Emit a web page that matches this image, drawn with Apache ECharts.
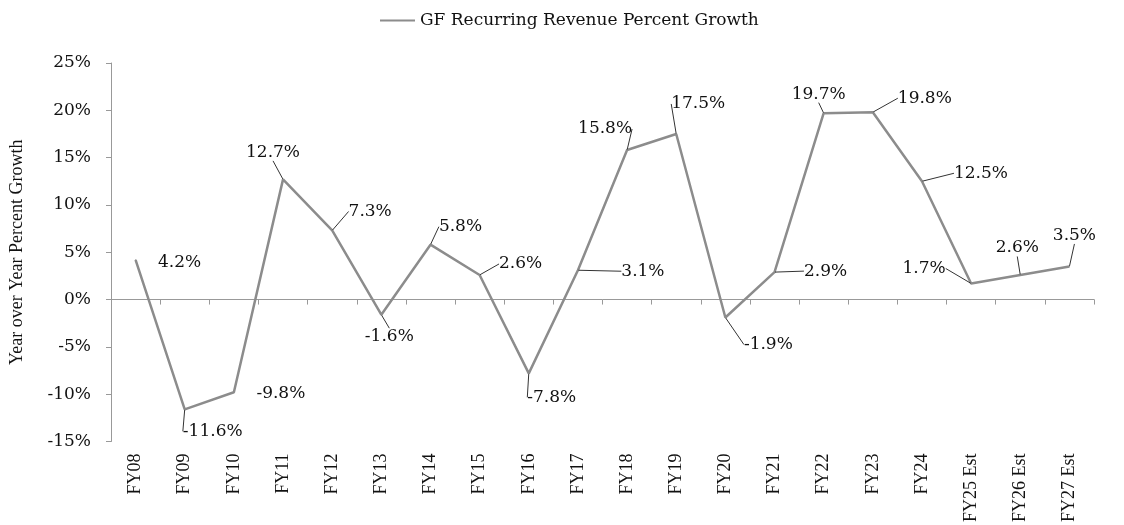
<!DOCTYPE html>
<html>
<head>
<meta charset="utf-8">
<script src="https://cdn.jsdelivr.net/npm/echarts@6/dist/echarts.min.js"></script>
<style>html,body{margin:0;padding:0;background:#fff;}#c{width:1124px;height:525px;}</style>
</head>
<body>
<div id="c"></div>
<script>
const categories = ['FY08','FY09','FY10','FY11','FY12','FY13','FY14','FY15','FY16','FY17','FY18','FY19','FY20','FY21','FY22','FY23','FY24','FY25 Est','FY26 Est','FY27 Est'];
const growth = [4.2, -11.6, -9.8, 12.7, 7.3, -1.6, 5.8, 2.6, -7.8, 3.1, 15.8, 17.5, -1.9, 2.9, 19.7, 19.8, 12.5, 1.7, 2.6, 3.5];
const seriesName = 'GF Recurring Revenue Percent Growth';
const yTicks = [-15, -10, -5, 0, 5, 10, 15, 20, 25];

// label offsets (styling only): [dx, dy] from the point
const labelOffsets = [[44,3],[28,22],[47,1],[-10,-27],[38,-19],[8,22],[30,-18],[41,-11],[23,24],[65,1],[-22,-21],[22,-30],[43,27],[51,-1],[-5,-19],[52,-14],[59,-8],[-47,-15],[-3,-27],[5,-31]];
const noLeader = [0, 2];

const chart = echarts.init(document.getElementById('c'));
const hFont = 'DejaVu Serif';
const vFont = 'Liberation Serif';
const seriesData = growth.map((v, i) => noLeader.includes(i) ? { value: v, labelLine: { show: false } } : v);
chart.setOption({
  animation: false,
  legend: {
    data: [seriesName],
    left: 375, top: 7,
    icon: 'rect', itemWidth: 35, itemHeight: 2, itemGap: 5,
    textStyle: { fontFamily: hFont, fontSize: 17, color: '#111' }
  },
  grid: { left: 109, right: 30, top: 63, bottom: 83 },
  xAxis: [
    {
      type: 'category', data: categories, boundaryGap: true,
      axisLine: { show: false, onZero: false },
      axisTick: { show: false },
      axisLabel: { rotate: 90, margin: 12, fontFamily: vFont, fontSize: 18, color: '#111', interval: 0 }
    },
    {
      type: 'category', data: categories, boundaryGap: true, position: 'bottom',
      axisLine: { show: true, onZero: true, lineStyle: { color: '#999', width: 1 } },
      axisTick: { show: true, inside: false, length: 5, interval: 0, lineStyle: { color: '#999' } },
      axisLabel: { show: false }
    }
  ],
  yAxis: {
    type: 'value', min: yTicks[0], max: yTicks[yTicks.length-1], interval: 5,
    name: 'Year over Year Percent Growth', nameLocation: 'middle', nameGap: 85,
    nameTextStyle: { fontFamily: vFont, fontSize: 18, color: '#111' },
    axisLine: { show: true, lineStyle: { color: '#999', width: 1 } },
    axisTick: { show: true, length: 5, lineStyle: { color: '#999' } },
    splitLine: { show: false },
    axisLabel: { formatter: v => v + '%', margin: 20, fontFamily: hFont, fontSize: 17, color: '#111' }
  },
  series: [{
    name: seriesName, type: 'line', data: seriesData, xAxisIndex: 0,
    symbol: 'circle', symbolSize: 1, showSymbol: true,
    lineStyle: { color: '#8c8c8c', width: 2.5 },
    itemStyle: { color: '#8c8c8c' },
    label: {
      show: true, position: 'inside', formatter: p => Number(p.value).toFixed(1) + '%',
      fontFamily: hFont, fontSize: 17, color: '#111'
    },
    labelLine: { show: true, lineStyle: { color: '#333', width: 1 } },
    labelLayout: p => ({ dx: labelOffsets[p.dataIndex][0], dy: labelOffsets[p.dataIndex][1] })
  }]
});
</script>
</body>
</html>
